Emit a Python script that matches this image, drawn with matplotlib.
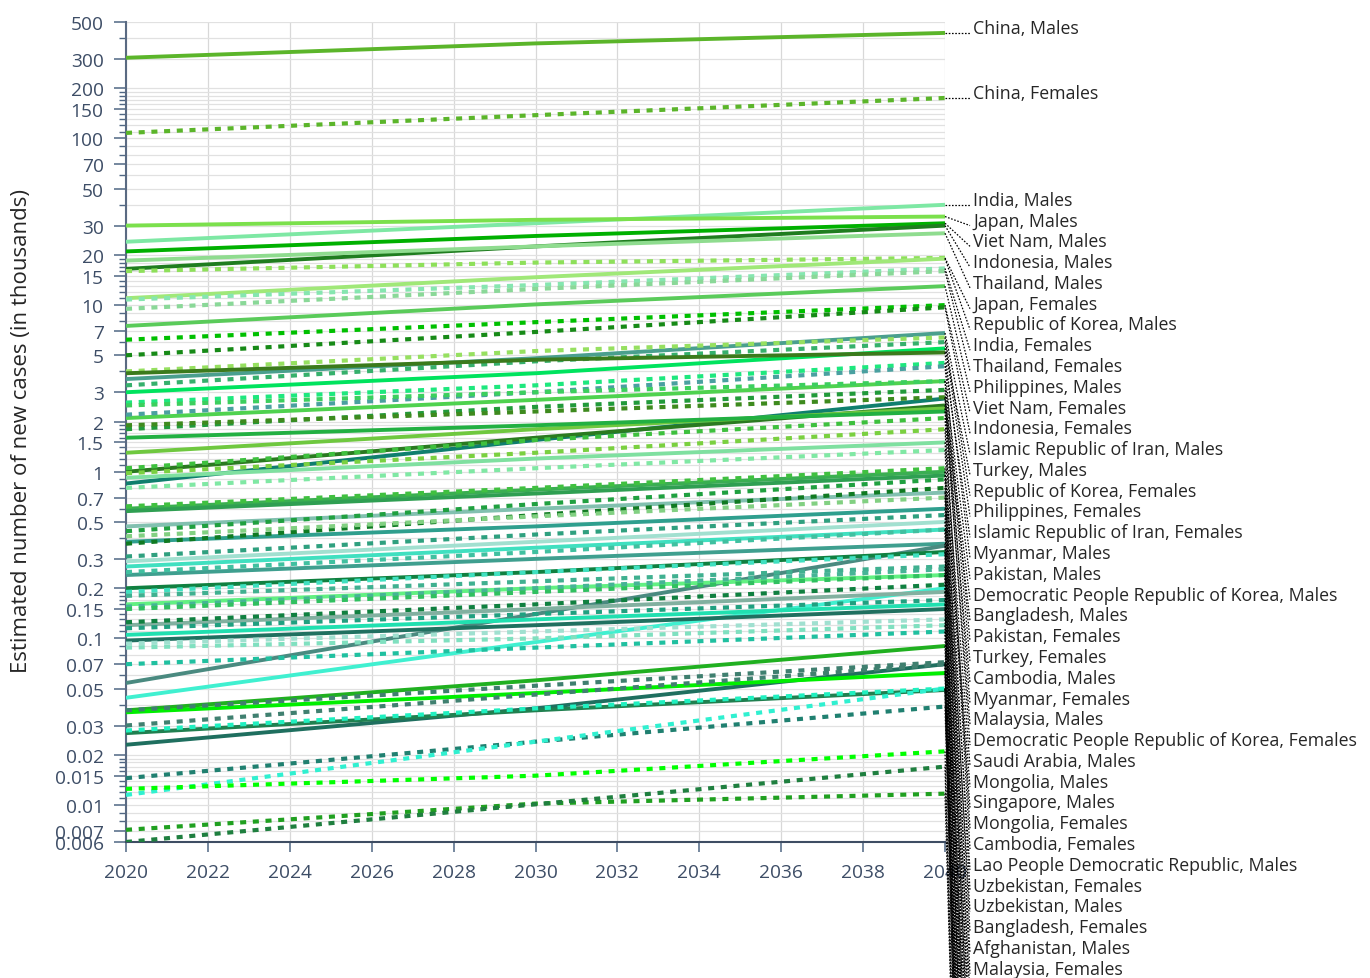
import matplotlib
matplotlib.use("Agg")
import matplotlib.pyplot as plt
from matplotlib.lines import Line2D
from matplotlib.ticker import FixedLocator, FixedFormatter, NullFormatter

# Estimated new cases (thousands) per population group, projected 2020-2040
years = [2020, 2030, 2040]

series_names = [
    "China, Males", "China, Females", "India, Males", "Japan, Males",
    "Viet Nam, Males", "Indonesia, Males", "Thailand, Males", "Japan, Females",
    "Republic of Korea, Males", "India, Females", "Thailand, Females",
    "Philippines, Males", "Viet Nam, Females", "Indonesia, Females",
    "Islamic Republic of Iran, Males", "Turkey, Males", "Republic of Korea, Females",
    "Philippines, Females", "Islamic Republic of Iran, Females", "Myanmar, Males",
    "Pakistan, Males", "Democratic People Republic of Korea, Males",
    "Bangladesh, Males", "Pakistan, Females", "Turkey, Females", "Cambodia, Males",
    "Myanmar, Females", "Malaysia, Males",
    "Democratic People Republic of Korea, Females", "Saudi Arabia, Males",
    "Mongolia, Males", "Singapore, Males", "Mongolia, Females", "Cambodia, Females",
    "Lao People Democratic Republic, Males", "Uzbekistan, Females",
    "Uzbekistan, Males", "Bangladesh, Females", "Afghanistan, Males",
    "Malaysia, Females", "Nepal, Males", "Saudi Arabia, Females",
    "Kazakhstan, Males", "Singapore, Females", "Sri Lanka, Males",
    "Lao People Democratic Republic, Females", "Iraq, Males",
    "Afghanistan, Females", "Syrian Arab Republic, Males", "Nepal, Females",
    "Yemen, Males", "Kazakhstan, Females", "Israel, Males", "Sri Lanka, Females",
    "Azerbaijan, Males", "Iraq, Females", "Jordan, Males",
    "Syrian Arab Republic, Females", "Kyrgyzstan, Males", "Yemen, Females",
    "Tajikistan, Males", "Israel, Females", "Georgia, Males", "Azerbaijan, Females",
    "Lebanon, Males", "Jordan, Females", "Kyrgyzstan, Females", "Tajikistan, Females",
    "Georgia, Females", "Lebanon, Females", "Armenia, Females",
    "Turkmenistan, Females", "Bhutan, Females", "Maldives, Females",
]

cases_2020 = [
    305, 108, 24, 30, 21, 16.5, 18.5, 16, 11, 10.8, 9.5, 7.5, 6.2, 5.0,
    3.6, 3.0, 4.0, 3.3, 2.6, 3.9, 2.1, 0.85, 1.0, 2.2, 2.5, 1.3, 1.8, 1.6,
    1.9, 0.92, 0.6, 0.58, 1.05, 0.98, 0.47, 0.8, 0.38, 0.62, 0.29, 0.44,
    0.27, 0.37, 0.24, 0.41, 0.054, 0.31, 0.2, 0.25, 0.16, 0.19, 0.044, 0.18,
    0.12, 0.155, 0.105, 0.15, 0.097, 0.125, 0.037, 0.115, 0.023, 0.093,
    0.036, 0.088, 0.027, 0.07, 0.03, 0.037, 0.028, 0.0145, 0.0115, 0.0125,
    0.0071, 0.006,
]

cases_2030 = [
    372, 138, 31, 32.5, 26, 22.5, 22.5, 18, 14.7, 13.2, 12.5, 10.1, 7.9, 6.9,
    4.8, 3.9, 5.3, 4.6, 3.3, 4.7, 2.7, 1.55, 1.6, 3.0, 3.0, 1.8, 2.45, 1.9,
    2.3, 1.2, 0.78, 0.74, 1.55, 1.3, 0.6, 1.05, 0.47, 0.8, 0.38, 0.64,
    0.35, 0.55, 0.3, 0.54, 0.14, 0.42, 0.25, 0.33, 0.2, 0.25, 0.095, 0.22,
    0.15, 0.2, 0.13, 0.19, 0.12, 0.16, 0.056, 0.14, 0.038, 0.11,
    0.047, 0.1, 0.037, 0.088, 0.046, 0.052, 0.038, 0.024, 0.024, 0.015,
    0.0102, 0.0101,
]

cases_2040 = [
    430, 175, 40, 34, 31, 30, 27, 19.2, 19, 16.6, 16, 13, 10, 9.7,
    6.8, 5.5, 6.4, 6.0, 4.5, 5.2, 3.5, 2.75, 2.5, 4.3, 3.5, 2.4, 3.1, 2.3,
    2.8, 1.5, 1.0, 0.95, 2.1, 1.8, 0.75, 1.35, 0.6, 1.05, 0.5, 0.9,
    0.45, 0.8, 0.37, 0.7, 0.36, 0.55, 0.33, 0.45, 0.24, 0.32, 0.2, 0.27,
    0.19, 0.26, 0.16, 0.24, 0.15, 0.21, 0.09, 0.17, 0.07, 0.13,
    0.062, 0.12, 0.049, 0.11, 0.07, 0.072, 0.05, 0.039, 0.05, 0.021,
    0.0117, 0.017,
]

line_colors = [
    "#5bb52a", "#5bb52a", "#7ee8a4", "#7be04c", "#00b000", "#1f7d1f", "#8fdc8f",
    "#8ee05a", "#a0e878", "#86e6b0", "#8ad898", "#5acb5a", "#00c000", "#178a17",
    "#4a9f8e", "#00e35e", "#96e060", "#36b06c", "#1ee87e", "#3b7a1c", "#4fd24f",
    "#0f7f6e", "#2a7a20", "#4aa0a0", "#3ccf5e", "#6fc83f", "#229a3a", "#22b042",
    "#3e8a1e", "#7fe0a0", "#3aae52", "#2f9f52", "#3ec03e", "#7ad040", "#82c0b0",
    "#80e8a4", "#2f9f8e", "#40c040", "#a2e0d0", "#20a040", "#40e0c0", "#107a22",
    "#3f9f8f", "#82d082", "#4a8a80", "#2fa07f", "#108040", "#40c0a0", "#62f082",
    "#40e0c0", "#40f0d0", "#40b090", "#82b0a0", "#46b496", "#20e0b0", "#30c060",
    "#207060", "#108040", "#20b020", "#20a080", "#1f6f5f", "#a0e0d0", "#00ee00",
    "#80e0c0", "#208050", "#20c0a0", "#408070", "#3f7f6f", "#20f0c0", "#208070",
    "#30f0d0", "#00ff00", "#20a020", "#1f7f3f",
]

y_tick_values = [0.006, 0.007, 0.01, 0.015, 0.02, 0.03, 0.05, 0.07, 0.1, 0.15,
                 0.2, 0.3, 0.5, 0.7, 1, 1.5, 2, 3, 5, 7, 10, 15, 20, 30, 50,
                 70, 100, 150, 200, 300, 500]
x_tick_values = list(range(2020, 2041, 2))

W, H = 1370, 979
plt.rcParams['font.family'] = ['Open Sans', 'DejaVu Sans']
fig = plt.figure(figsize=(W / 100, H / 100), dpi=100)

# plot box in pixel terms (from the top-left corner)
PL, PR, PT, PB = 126, 945, 23, 843
ax = fig.add_axes([PL / W, (H - PB) / H, (PR - PL) / W, (PB - PT) / H])
ax.set_yscale('log')
ax.set_xlim(2020, 2040)
ax.set_ylim(0.006, 500)

# minor grid positions: 1.1..1.9, 4, 6, 8, 9 in every decade
minor_vals = []
for k in range(-3, 3):
    for d in [1.1, 1.2, 1.3, 1.4, 1.6, 1.7, 1.8, 1.9, 4, 6, 8, 9]:
        v = d * 10 ** k
        if 0.006 <= v <= 500:
            minor_vals.append(v)

ax.yaxis.set_major_locator(FixedLocator(y_tick_values))
ax.yaxis.set_major_formatter(FixedFormatter([f"{v:g}" for v in y_tick_values]))
ax.yaxis.set_minor_locator(FixedLocator(minor_vals))
ax.yaxis.set_minor_formatter(NullFormatter())
ax.set_xticks(x_tick_values)
ax.set_xticklabels([str(x) for x in x_tick_values])

tick_col = '#506784'
lab_col = '#3d4d66'
ax.tick_params(axis='y', which='major', length=8.6, width=1.1, color=tick_col,
               pad=7.5, labelsize=13.8, labelcolor=lab_col)
ax.tick_params(axis='y', which='minor', length=5, width=1.0, color=tick_col)
ax.tick_params(axis='x', which='major', length=7.2, width=1.1, color=tick_col,
               pad=8, labelsize=13.8, labelcolor=lab_col)

ax.grid(True, which='both', axis='y', color='#e1e1e1', lw=0.9, zorder=0)
ax.grid(True, which='major', axis='x', color='#d8d8d8', lw=0.9, zorder=0)
ax.set_axisbelow(True)
for s in ['top', 'right']:
    ax.spines[s].set_visible(False)
ax.spines['left'].set_color('#5a6a82')
ax.spines['left'].set_linewidth(1.5)
ax.spines['bottom'].set_color('#3e4d63')
ax.spines['bottom'].set_linewidth(1.5)

for i, name in enumerate(series_names):
    vals = [cases_2020[i], cases_2030[i], cases_2040[i]]
    if name.endswith('Females'):
        ax.plot(years, vals, color=line_colors[i], lw=3.0,
                linestyle=(0, (1.45, 1.6)), dash_capstyle='butt', zorder=3)
    else:
        ax.plot(years, vals, color=line_colors[i], lw=2.8,
                solid_capstyle='butt', zorder=3)

# end-of-line labels, stacked downward with a minimum spacing
spacing = 20.78
prev = -1e9
for i, name in enumerate(series_names):
    ey = H - ax.transData.transform((2040, cases_2040[i]))[1]
    ly = max(ey, prev + spacing)
    prev = ly
    fig.add_artist(Line2D([PR / W, 970 / W], [(H - ey) / H, (H - ly) / H],
                          transform=fig.transFigure, color='black', lw=0.9,
                          linestyle=(0, (1.3, 1.3)), zorder=5))
    fig.text(973 / W, (H - ly) / H, name, ha='left', va='baseline',
             fontsize=12.8, color='#262626', zorder=6)

fig.text(22 / W, (H - 431) / H, "Estimated number of new cases (in thousands)",
         rotation=90, ha='center', va='center', fontsize=16, color='#262626')

fig.savefig('out.png', dpi=100, facecolor='white')
